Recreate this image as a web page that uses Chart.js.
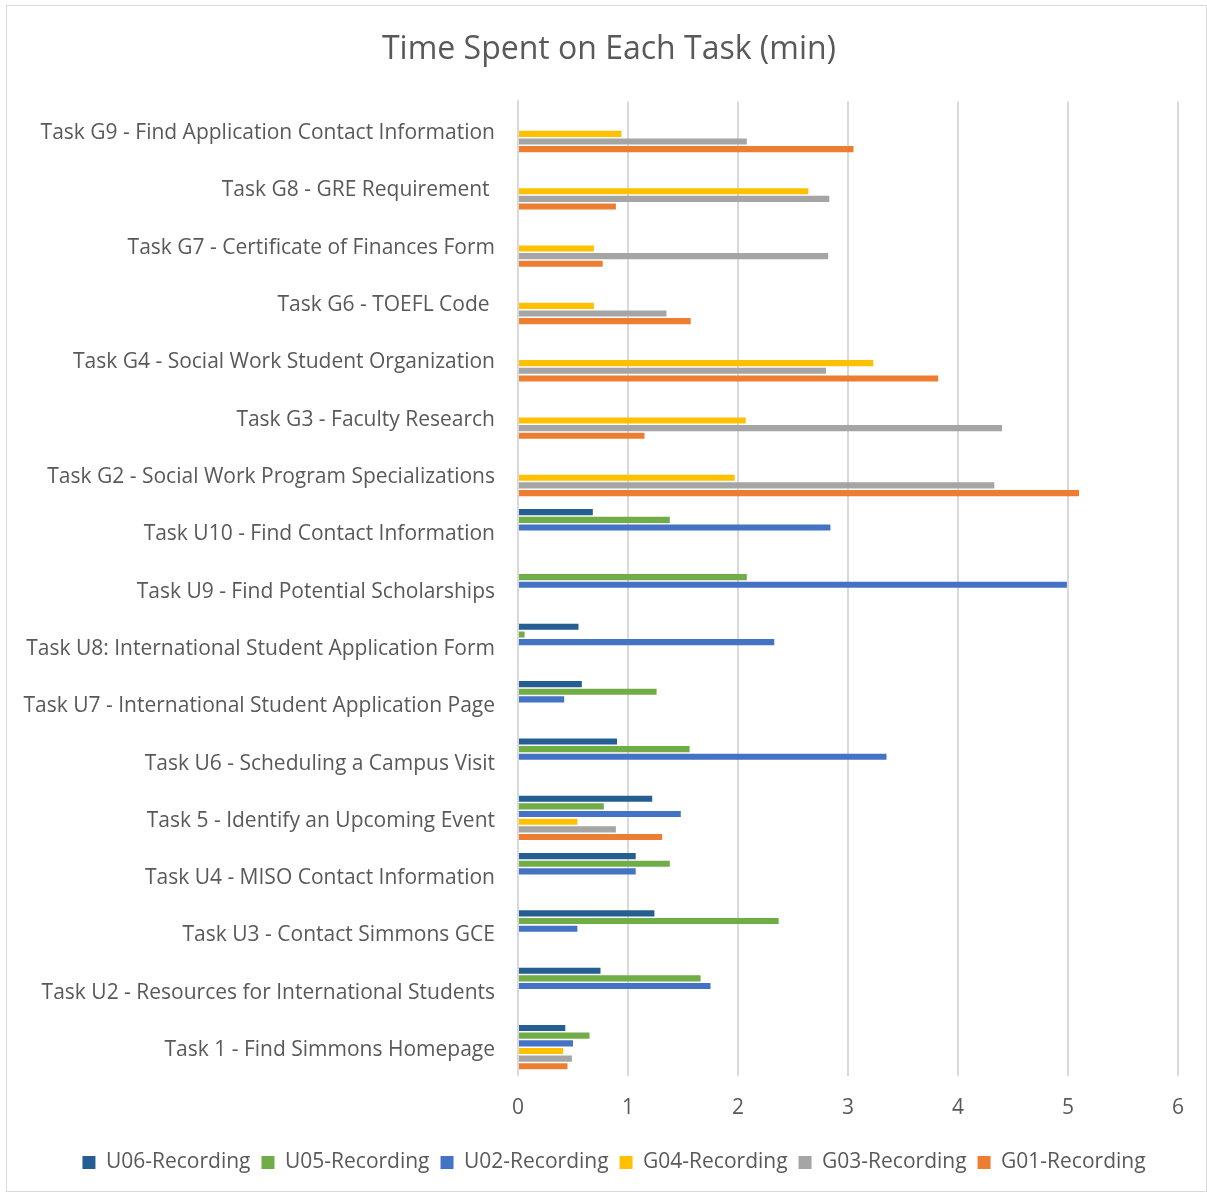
<!DOCTYPE html>
<html>
<head>
<meta charset="utf-8">
<script src="https://cdn.jsdelivr.net/npm/chart.js@4/dist/chart.umd.min.js"></script>
<style>
  html, body { margin: 0; padding: 0; background: #ffffff; }
  #frame {
    position: absolute; left: 6px; top: 5px; width: 1201px; height: 1187px;
    border: 1px solid #d9d9d9; box-sizing: border-box;
  }
  #wrap { position: absolute; left: 0; top: 0; width: 1207px; height: 1195px; }
</style>
</head>
<body>
<div id="frame"></div>
<div id="wrap"><canvas id="chart" width="1207" height="1195"></canvas></div>
<script>
// Task names, listed top to bottom
const tasks = [
  "Task G9 - Find Application Contact Information",
  "Task G8 - GRE Requirement ",
  "Task G7 - Certificate of Finances Form",
  "Task G6 - TOEFL Code ",
  "Task G4 - Social Work Student Organization",
  "Task G3 - Faculty Research",
  "Task G2 - Social Work Program Specializations",
  "Task U10 - Find Contact Information",
  "Task U9 - Find Potential Scholarships",
  "Task U8: International Student Application Form",
  "Task U7 - International Student Application Page",
  "Task U6 - Scheduling a Campus Visit",
  "Task 5 - Identify an Upcoming Event",
  "Task U4 - MISO Contact Information",
  "Task U3 - Contact Simmons GCE",
  "Task U2 - Resources for International Students",
  "Task 1 - Find Simmons Homepage"
];

// Minutes per recording (null where the task was not part of the session)
const u06 = [null, null, null, null, null, null, null, 0.68, null, 0.55, 0.58, 0.90, 1.22, 1.07, 1.24, 0.75, 0.43];
const u05 = [null, null, null, null, null, null, null, 1.38, 2.08, 0.06, 1.26, 1.56, 0.78, 1.38, 2.37, 1.66, 0.65];
const u02 = [null, null, null, null, null, null, null, 2.84, 4.99, 2.33, 0.42, 3.35, 1.48, 1.07, 0.54, 1.75, 0.50];
const g04 = [0.94, 2.64, 0.69, 0.69, 3.23, 2.07, 1.97, null, null, null, null, null, 0.54, null, null, null, 0.41];
const g03 = [2.08, 2.83, 2.82, 1.35, 2.80, 4.40, 4.33, null, null, null, null, null, 0.89, null, null, null, 0.49];
const g01 = [3.05, 0.89, 0.77, 1.57, 3.82, 1.15, 5.10, null, null, null, null, null, 1.31, null, null, null, 0.45];

const seriesNames = ["U06-Recording", "U05-Recording", "U02-Recording", "G04-Recording", "G03-Recording", "G01-Recording"];
const seriesValues = [u06, u05, u02, g04, g03, g01];
const seriesColors = ["#255E91", "#70AD47", "#4472C4", "#FFC000", "#A5A5A5", "#ED7D31"];

const xTicks = [0, 1, 2, 3, 4, 5, 6];

const FONT = "'Open Sans', 'DejaVu Sans', sans-serif";
const TEXT = "#595959";
const PAD_LEFT = 20;

// Centre the title and legend on the whole frame rather than on the padded box
const recentre = {
  id: "recentre",
  afterLayout(chart) {
    const shift = (box, dx) => { if (box) { box.left += dx; box.right += dx; } };
    shift(chart.titleBlock, 10);
    shift(chart.legend, 15);
  }
};

new Chart(document.getElementById("chart"), {
  type: "bar",
  data: {
    labels: tasks,
    datasets: seriesNames.map((name, i) => ({
      label: name,
      data: seriesValues[i],
      backgroundColor: seriesColors[i],
      borderWidth: 0,
      categoryPercentage: 0.8,
      barPercentage: 0.8
    }))
  },
  plugins: [recentre],
  options: {
    indexAxis: "y",
    responsive: false,
    animation: false,
    layout: { padding: { left: PAD_LEFT, right: 29, top: 10, bottom: 12 } },
    plugins: {
      title: {
        display: true,
        text: "Time Spent on Each Task (min)",
        color: TEXT,
        font: { family: FONT, size: 32, weight: "normal" },
        padding: { top: 21, bottom: 32 }
      },
      legend: {
        position: "bottom",
        labels: {
          color: TEXT,
          font: { family: FONT, size: 21 },
          boxWidth: 13,
          boxHeight: 13,
          padding: 11
        }
      },
      tooltip: { enabled: false }
    },
    scales: {
      x: {
        min: 0,
        max: 6,
        afterBuildTicks: (axis) => { axis.ticks = xTicks.map(v => ({ value: v })); },
        grid: { color: "#d9d9d9", lineWidth: 2, drawTicks: false },
        border: { display: false },
        ticks: {
          color: TEXT,
          font: { family: FONT, size: 21 },
          padding: 20
        }
      },
      y: {
        afterFit: (scale) => { scale.width = 518 - PAD_LEFT; },
        grid: { display: false, drawTicks: false },
        border: { display: true, color: "#d9d9d9", width: 2 },
        ticks: {
          color: TEXT,
          font: { family: FONT, size: 21 },
          padding: 23,
          labelOffset: 3,
          autoSkip: false
        }
      }
    }
  }
});
</script>
</body>
</html>
